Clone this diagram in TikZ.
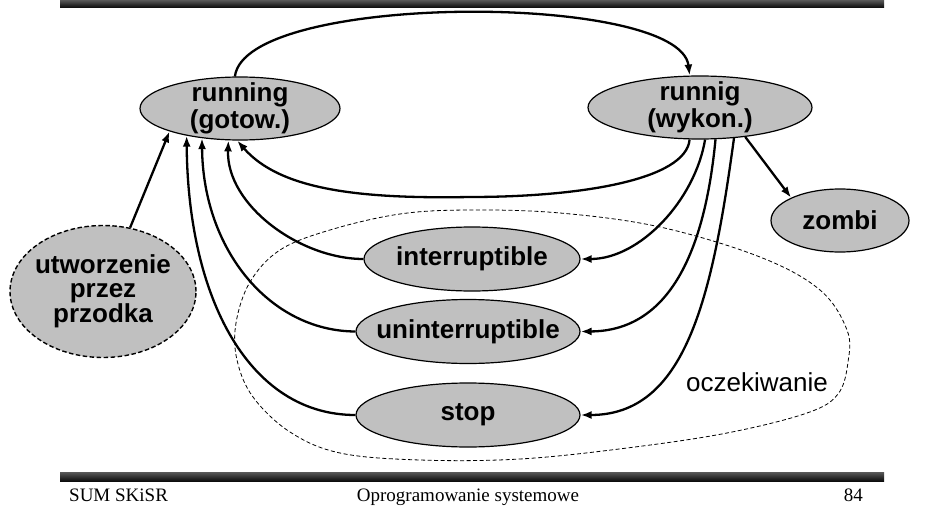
\documentclass[tikz,border=0pt]{standalone}
\usepackage{fontspec}
\setmainfont{Liberation Serif}
\newfontfamily\arialfont{Liberation Sans}
\usetikzlibrary{shapes.geometric,arrows.meta}
\definecolor{stategray}{RGB}{192,192,192}
\begin{document}
\begin{tikzpicture}[x=1pt,y=-1pt,
  state/.style={ellipse, draw, line width=1.2pt, fill=stategray, inner sep=0pt},
  newstate/.style={state, line width=1.4pt, dash pattern=on 4.5pt off 2.5pt},
  lbl/.style={font=\arialfont\bfseries\fontsize{26}{27}\selectfont, align=center, inner sep=0pt},
  lbltight/.style={lbl, font=\arialfont\bfseries\fontsize{26}{23.5}\selectfont},
  flow/.style={line width=2.3pt, -{Latex[length=11pt,width=8pt]}},
  region/.style={line width=0.8pt, dash pattern=on 4pt off 2.5pt},
  footer/.style={font=\fontsize{19}{21}\selectfont, inner sep=0pt},
  bar/.style={top color=black!65, bottom color=black!95, draw=none}]
\useasboundingbox (0,0) rectangle (931,508);

% header and footer bars
\fill[bar] (60,0) rectangle (884,7.5);
\fill[bar] (60,472) rectangle (884,481);

% states
\node[state, minimum width=200pt, minimum height=63pt,
      label={[lbl]center:running\\(gotow.)}] (r) at (240,108.5) {};
\node[state, minimum width=224pt, minimum height=63pt,
      label={[lbl]center:runnig\\(wykon.)}] (w) at (700,107.5) {};
\node[state, minimum width=138pt, minimum height=63pt,
      label={[lbl]center:zombi}] (z) at (840,220.5) {};
\node[newstate, minimum width=186pt, minimum height=132pt,
      label={[lbltight]center:utworzenie\\przez\\przodka}] (t) at (103,291.5) {};
\node[state, minimum width=216pt, minimum height=64pt,
      label={[lbl]center:interruptible}] (i) at (472,259) {};
\node[state, minimum width=224pt, minimum height=64pt,
      label={[lbl]center:uninterruptible}] (u) at (468,331.5) {};
\node[state, minimum width=224pt, minimum height=64pt,
      label={[lbl]center:stop}] (s) at (468,415) {};

% waiting region
\draw[region] plot[smooth cycle, tension=0.6] coordinates {
  (470,210) (560,213) (660,227) (760,257) (820,290) (847,330) (848,362)
  (838,394) (807,413) (727,433) (627,448) (520,459) (420,460) (340,453)
  (290,432) (253,397) (237,360) (236,323) (250,282) (280,250) (330,230)
  (400,214)};
\node[font=\arialfont\fontsize{26}{27}\selectfont, inner sep=0pt] (wait) at (757,382) {oczekiwanie};

% transitions
\draw[flow] (r.99) .. controls (245,-8) and (680,-8) .. (w.108);
\draw[flow] (w.-108) .. controls (686,180) and (580,197) .. (470,197)
            .. controls (360,199) and (280,190) .. (r.-95);
\draw[flow] (w.-33) -- (z.155);
\draw[flow] (w.-81) .. controls (695,200) and (640,259) .. (i.east);
\draw[flow] (w.-64) .. controls (705,250) and (670,331) .. (u.east);
\draw[flow] (w.-42) .. controls (712,300) and (685,415) .. (s.east);
\draw[flow] (i.west) .. controls (300,259) and (226,205) .. (r.-110);
\draw[flow] (u.west) .. controls (270,331) and (203,250) .. (r.-142);
\draw[flow] (s.west) .. controls (250,415) and (188,300) .. (r.-153);
\draw[flow] (t.67) -- (r.-162);

% footer texts
\node[footer, anchor=base west] (f1) at (69,501) {SUM SKiSR};
\node[footer, anchor=base] (f2) at (468,501) {Oprogramowanie systemowe};
\node[footer, anchor=base east] (f3) at (863,501) {84};
\end{tikzpicture}
\end{document}
